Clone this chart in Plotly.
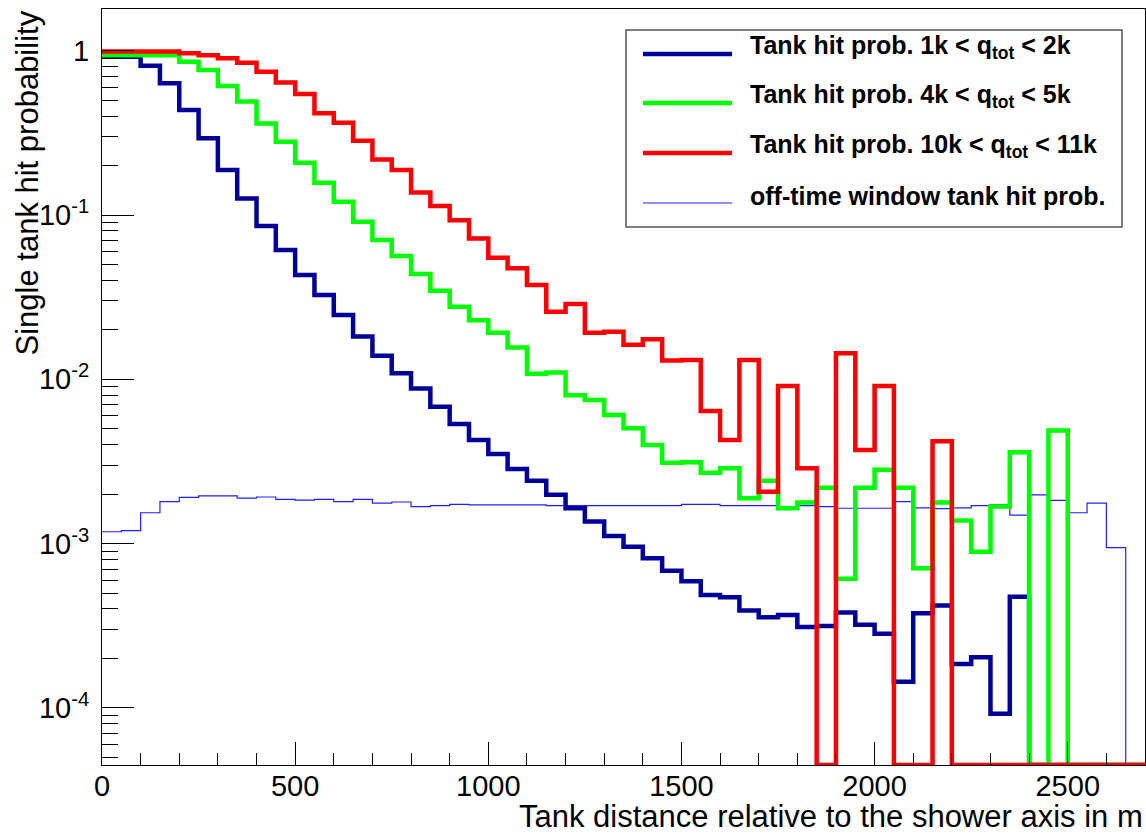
import numpy as np
import plotly.graph_objects as go

# ---------------- data ----------------
bin_edges = list(range(0, 2750, 50))  # 0 .. 2700, 50 m bins

series_names = [
    "Tank hit prob. 1k &lt; q<sub>tot</sub> &lt; 2k",
    "Tank hit prob. 4k &lt; q<sub>tot</sub> &lt; 5k",
    "Tank hit prob. 10k &lt; q<sub>tot</sub> &lt; 11k",
    "off-time window tank hit prob.",
]

prob_1k_2k = [
    0.92, 0.92, 0.81, 0.633, 0.435, 0.293, 0.188, 0.126, 0.0858, 0.0612,
    0.0431, 0.0326, 0.0246, 0.0182, 0.0139, 0.0109, 0.0088, 0.0068, 0.00534, 0.00427,
    0.00351, 0.00284, 0.00241, 0.00198, 0.00164, 0.00136, 0.00111, 0.000957, 0.000813, 0.000684,
    0.00059, 0.000486, 0.000471, 0.000391, 0.000356, 0.000368, 0.00031, 0.000315, 0.00038, 0.00032,
    0.000282, 0.000144, 0.000376, 0.000419, 0.000185, 0.000203, 0.000092, 0.000475, 0, 0,
    0, 0, 0, 0,
]

prob_4k_5k = [
    0.94, 0.94, 0.94, 0.94, 0.857, 0.763, 0.61, 0.49, 0.361, 0.279,
    0.208, 0.157, 0.1205, 0.091, 0.0704, 0.0563, 0.0437, 0.0346, 0.0276, 0.0229,
    0.0192, 0.0156, 0.0108, 0.011, 0.0080, 0.00748, 0.00607, 0.00503, 0.00398, 0.0031,
    0.00313, 0.0027, 0.00287, 0.00189, 0.00241, 0.00164, 0.00178, 0.00219, 0.00061, 0.00219,
    0.00281, 0.00219, 0.000707, 0.00178, 0.00138, 0.000893, 0.00168, 0.0036, 0, 0.00487,
    0, 0, 0, 0,
]

prob_10k_11k = [
    0.99, 0.99, 0.99, 0.99, 0.965, 0.94, 0.90, 0.845, 0.745, 0.64,
    0.545, 0.416, 0.365, 0.283, 0.218, 0.188, 0.137, 0.1135, 0.093, 0.072,
    0.055, 0.0474, 0.0375, 0.0258, 0.0287, 0.0192, 0.0195, 0.0162, 0.0175, 0.013,
    0.0131, 0.0064, 0.00427, 0.0131, 0.00207, 0.0091, 0.00287, 0, 0.0144, 0.00371,
    0.0091, 0, 0, 0.0042, 0, 0, 0, 0, 0, 0,
    0, 0, 0, 0,
]

prob_offtime = [
    0.00118, 0.0012, 0.00154, 0.0018, 0.00191, 0.00195, 0.00195, 0.00189, 0.00192, 0.00186,
    0.00184, 0.00186, 0.0018, 0.00186, 0.00176, 0.00179, 0.00168, 0.0017, 0.00173, 0.00172,
    0.00172, 0.00172, 0.00172, 0.0017, 0.0017, 0.0017, 0.0017, 0.0017, 0.0017, 0.0017,
    0.00173, 0.00173, 0.0017, 0.0017, 0.0017, 0.00168, 0.0017, 0.00168, 0.00164, 0.00164,
    0.00164, 0.0018, 0.00165, 0.00163, 0.00165, 0.0017, 0.00172, 0.00149, 0.00198, 0.00183,
    0.00154, 0.00176, 0.000944, 0,
]

x_tick_vals = [0, 500, 1000, 1500, 2000, 2500]
y_tick_vals = [1e-4, 1e-3, 1e-2, 1e-1, 1]
y_tick_text = ["10<sup>-4</sup>", "10<sup>-3</sup>", "10<sup>-2</sup>", "10<sup>-1</sup>", "1"]

x_title = "Tank distance relative to the shower axis in m"
y_title = "Single tank hit probability"

# ---------------- style ----------------
W, H = 1146, 835
L, R, T, B = 102, 1, 9, 70
log_range = [-4.348, 0.254]
y_floor = 10 ** log_range[0]
FONT = "Liberation Sans, Arial, Helvetica, sans-serif"

colors = ["#000099", "#00ff00", "#ff0000", "#2020ff"]
widths = [4.5, 4.5, 4.5, 1.2]
series = [prob_1k_2k, prob_4k_5k, prob_10k_11k, prob_offtime]

fig = go.Figure()

def step_xy(vals):
    v = np.asarray(vals, dtype=float)
    v = np.where(v > 0, v, y_floor)
    xs = list(bin_edges[:-1]) + [bin_edges[-1]]
    ys = list(v) + [v[-1]]
    return xs, ys

# draw order: off-time first, then blue, green, red
for i in [3, 0, 1, 2]:
    xs, ys = step_xy(series[i])
    fig.add_trace(go.Scatter(
        x=xs, y=ys, mode="lines", line_shape="hv",
        line=dict(color=colors[i], width=widths[i]),
        name=series_names[i], showlegend=False, hoverinfo="skip",
    ))

minor_y = [k * 10.0 ** n for n in range(-5, 1) for k in range(2, 10)
           if log_range[0] <= np.log10(k * 10.0 ** n) <= log_range[1]]

fig.update_layout(
    width=W, height=H,
    margin=dict(l=L, r=R, t=T, b=B, pad=0),
    paper_bgcolor="white", plot_bgcolor="white",
    font=dict(family=FONT, color="black"),
    showlegend=False,
    xaxis=dict(
        range=[0, 2700], tickmode="array", tickvals=x_tick_vals,
        ticks="inside", ticklen=23, tickwidth=1, tickcolor="black",
        minor=dict(dtick=100, tick0=0, ticks="inside", ticklen=12, tickwidth=1, tickcolor="black"),
        showline=True, linecolor="black", linewidth=1, mirror=True,
        showgrid=False, zeroline=False,
        tickfont=dict(size=29, family=FONT, color="black"),
        ticklabelstandoff=-5,
    ),
    yaxis=dict(
        type="log", range=log_range, tickmode="array",
        tickvals=y_tick_vals, ticktext=y_tick_text,
        ticks="inside", ticklen=32, tickwidth=1, tickcolor="black",
        minor=dict(tickvals=minor_y, ticks="inside", ticklen=16, tickwidth=1, tickcolor="black"),
        showline=True, linecolor="black", linewidth=1, mirror=True,
        showgrid=False, zeroline=False,
        tickfont=dict(size=29, family=FONT, color="black"),
        ticklabelstandoff=6,
    ),
)

plot_w = W - L - R
plot_h = H - T - B

# page pixel -> paper coordinates
def px2paper_x(px):
    return (px - L) / plot_w

def px2paper_y(py):
    return (H - B - py) / plot_h

# axis titles (ROOT style, right/top aligned)
fig.add_annotation(text=x_title, xref="paper", yref="paper",
                   x=px2paper_x(1145), y=px2paper_y(816), xanchor="right", yanchor="middle",
                   showarrow=False, font=dict(size=31, family=FONT, color="black"))
fig.add_annotation(text=y_title, xref="paper", yref="paper",
                   x=px2paper_x(27), y=px2paper_y(9), xanchor="center", yanchor="top",
                   textangle=-90, showarrow=False, font=dict(size=31, family=FONT, color="black"))

# legend box (ROOT TLegend style)
fig.add_shape(type="rect", xref="paper", yref="paper",
              x0=px2paper_x(626), x1=px2paper_x(1122), y0=px2paper_y(227), y1=px2paper_y(30),
              line=dict(color="#555555", width=1.5), fillcolor="white", layer="above")
legend_rows = [54, 103, 153, 203]
for i, ry in enumerate(legend_rows):
    fig.add_shape(type="line", xref="paper", yref="paper",
                  x0=px2paper_x(643), x1=px2paper_x(732), y0=px2paper_y(ry), y1=px2paper_y(ry),
                  line=dict(color=colors[i], width=widths[i]), layer="above")
    fig.add_annotation(text="<b>" + series_names[i] + "</b>", xref="paper", yref="paper",
                       x=px2paper_x(748), y=px2paper_y(ry - 7), xanchor="left", yanchor="middle",
                       showarrow=False, font=dict(size=25, family=FONT, color="black"))

# remove the default 8px page margin so the figure fills the window exactly
fig.write_html("out.html",
               config={"displayModeBar": False},
               post_script="document.body.style.margin='0';document.body.style.overflow='hidden';")
